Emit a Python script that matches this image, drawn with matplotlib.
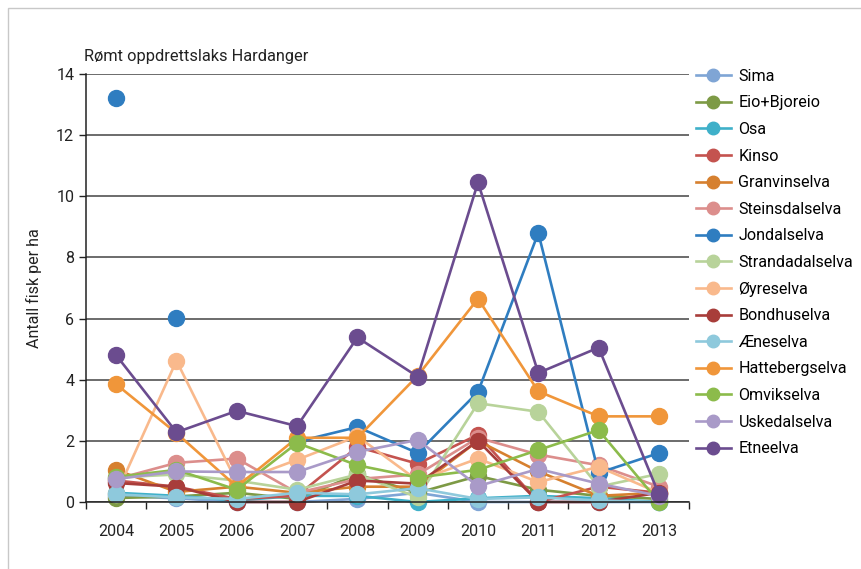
"""Rømt oppdrettslaks i Hardanger-elvene, 2004-2013."""
import numpy as np
import matplotlib.pyplot as plt
from matplotlib.patches import Rectangle

plt.rcParams["font.family"] = ["Roboto", "DejaVu Sans"]

years = ["2004", "2005", "2006", "2007", "2008", "2009", "2010", "2011", "2012", "2013"]
nan = np.nan

sima = [0.20, 0.12, 0.00, 0.00, 0.10, 0.30, 0.00, 0.00, 0.00, 0.00]
eio_bjoreio = [0.13, 0.18, 0.30, 0.10, 0.90, 0.30, 0.85, 0.40, 0.20, 0.10]
osa = [0.30, 0.20, 0.05, 0.20, 0.20, 0.00, 0.12, 0.20, 0.12, 0.00]
kinso = [0.70, 0.50, 0.10, 0.20, 1.80, 1.25, 2.20, 0.00, 0.50, 0.30]
granvinselva = [1.05, 0.33, 0.50, 0.30, 0.50, 0.50, 2.00, 1.00, 0.20, 0.30]
steinsdalselva = [0.75, 1.28, 1.42, 0.30, 0.75, 0.90, 2.10, 1.55, 1.20, 0.50]
jondalselva = [13.20, 6.02, nan, 1.97, 2.45, 1.60, 3.60, 8.80, 0.95, 1.60]
strandadalselva = [0.80, 0.90, 0.70, 0.40, 0.90, 0.15, 3.23, 2.95, 0.50, 0.92]
oyreselva = [0.25, 4.62, 0.65, 1.38, 2.15, 0.70, 1.42, 0.65, 1.15, 0.30]
bondhuselva = [0.62, 0.50, 0.00, 0.00, 0.70, 0.60, 2.00, 0.00, 0.00, 0.30]
aeneselva = [0.25, 0.15, 0.10, 0.30, 0.25, 0.45, 0.10, 0.15, 0.05, 0.00]
hattebergselva = [3.85, 2.25, 0.50, 2.10, 2.10, 4.13, 6.65, 3.62, 2.80, 2.80]
omvikselva = [0.82, 1.05, 0.40, 1.93, 1.20, 0.80, 1.05, 1.70, 2.35, 0.00]
uskedalselva = [0.75, 1.00, 0.98, 0.98, 1.64, 2.03, 0.52, 1.08, 0.60, 0.20]
etneelva = [4.80, 2.28, 2.98, 2.48, 5.38, 4.10, 10.45, 4.22, 5.05, 0.25]

series = [
    ("Sima", sima, "#7fa5d5"),
    ("Eio+Bjoreio", eio_bjoreio, "#7d9a45"),
    ("Osa", osa, "#3fb0c9"),
    ("Kinso", kinso, "#c4534f"),
    ("Granvinselva", granvinselva, "#d6802f"),
    ("Steinsdalselva", steinsdalselva, "#dc8e8c"),
    ("Jondalselva", jondalselva, "#2f7dc0"),
    ("Strandadalselva", strandadalselva, "#b8d39a"),
    ("Øyreselva", oyreselva, "#f9b98c"),
    ("Bondhuselva", bondhuselva, "#a83d3a"),
    ("Æneselva", aeneselva, "#8ec9dc"),
    ("Hattebergselva", hattebergselva, "#f0963a"),
    ("Omvikselva", omvikselva, "#8cbb4b"),
    ("Uskedalselva", uskedalselva, "#a99ac8"),
    ("Etneelva", etneelva, "#6b4c8f"),
]

fig = plt.figure(figsize=(8.61, 5.69), dpi=100)
ax = fig.add_axes([0.0999, 0.1178, 0.7004, 0.7522])

x = np.arange(len(years))
for name, vals, color in series:
    vals = np.array(vals, dtype=float)
    if name == "Jondalselva":
        # 2004 and 2005 are stand-alone points, the line starts in 2007
        ax.plot(x[3:], vals[3:], color=color, lw=1.9, zorder=2)
        ax.plot(x, vals, ls="none", marker="o", ms=11.5, color=color, zorder=2)
    else:
        ax.plot(x, vals, color=color, lw=1.9, marker="o", ms=11.5, zorder=2)
    ax.plot([], [], color=color, lw=1.9, marker="o", ms=9, label=name)

ax.set_xlim(-0.5, len(years) - 0.5)
ax.set_ylim(0, 14)
ax.set_yticks(np.arange(0, 15, 2))
ax.set_xticks(x)
ax.set_xticklabels(years)
ax.set_xticks(np.arange(-0.5, len(years), 1), minor=True)
ax.tick_params(axis="x", which="major", length=0, labelsize=11.5, pad=16, colors="#222222")
ax.tick_params(axis="x", which="minor", length=5, width=1, direction="out", color="#222222")
ax.tick_params(axis="y", length=5, width=1, labelsize=11.5, colors="#222222")
ax.grid(axis="y", color="#444444", lw=1.1, zorder=0)
ax.set_axisbelow(True)
for side in ("top", "right"):
    ax.spines[side].set_visible(False)
for side in ("left", "bottom"):
    ax.spines[side].set_color("#222222")
    ax.spines[side].set_linewidth(1.1)
for m in ax.get_lines():
    m.set_clip_on(False)

ax.set_ylabel("Antall fisk per ha", fontsize=11.5, color="#222222", labelpad=10)
fig.text(0.097, 0.893, "Rømt oppdrettslaks Hardanger", fontsize=11.8, color="#222222")

ax.legend(loc="upper left", bbox_to_anchor=(0.808, 0.879), bbox_transform=fig.transFigure,
          frameon=False, fontsize=11.6, handlelength=2.2, handletextpad=0.45,
          labelspacing=0.72, borderaxespad=0, borderpad=0)

# light frame around the chart area
fig.add_artist(Rectangle((0.009, -0.02), 1.2, 1.006, transform=fig.transFigure,
                         fill=False, edgecolor="#c8c8c8", lw=1))

fig.savefig("out.png", dpi=100)
